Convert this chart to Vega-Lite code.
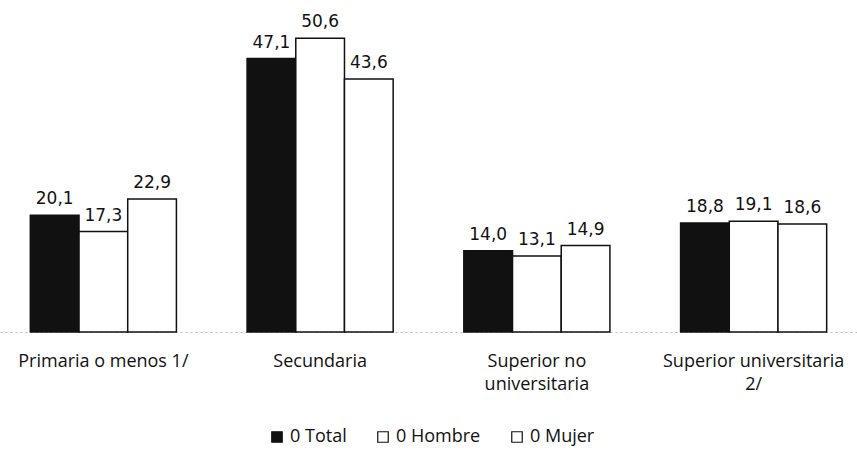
{
  "$schema": "https://vega.github.io/schema/vega-lite/v6.json",
  "autosize": "none",
  "width": 867,
  "height": 332,
  "padding": {"left": -5, "top": 0, "right": 0, "bottom": 121},
  "background": "white",
  "config": {"view": {"stroke": null}, "font": "Open Sans"},
  "data": {"values": [
    {"nivel": "Primaria o menos 1/", "serie": "Total", "valor": 20.1, "etiqueta": "20,1"},
    {"nivel": "Primaria o menos 1/", "serie": "Hombre", "valor": 17.3, "etiqueta": "17,3"},
    {"nivel": "Primaria o menos 1/", "serie": "Mujer", "valor": 22.9, "etiqueta": "22,9"},
    {"nivel": "Secundaria", "serie": "Total", "valor": 47.1, "etiqueta": "47,1"},
    {"nivel": "Secundaria", "serie": "Hombre", "valor": 50.6, "etiqueta": "50,6"},
    {"nivel": "Secundaria", "serie": "Mujer", "valor": 43.6, "etiqueta": "43,6"},
    {"nivel": "Superior no universitaria", "serie": "Total", "valor": 14.0, "etiqueta": "14,0"},
    {"nivel": "Superior no universitaria", "serie": "Hombre", "valor": 13.1, "etiqueta": "13,1"},
    {"nivel": "Superior no universitaria", "serie": "Mujer", "valor": 14.9, "etiqueta": "14,9"},
    {"nivel": "Superior universitaria 2/", "serie": "Total", "valor": 18.8, "etiqueta": "18,8"},
    {"nivel": "Superior universitaria 2/", "serie": "Hombre", "valor": 19.1, "etiqueta": "19,1"},
    {"nivel": "Superior universitaria 2/", "serie": "Mujer", "valor": 18.6, "etiqueta": "18,6"}
  ]},
  "encoding": {
    "x": {
      "field": "nivel", "type": "nominal", "sort": null,
      "scale": {"paddingInner": 0.326, "paddingOuter": 0.163},
      "axis": {
        "title": null, "labelAngle": 0, "ticks": false,
        "domainColor": "#bbbbbb", "domainDash": [2, 3], "domainWidth": 1,
        "labelFont": "Open Sans", "labelFontSize": 18, "labelColor": "#111111",
        "labelPadding": 29, "labelLineHeight": 23, "labelBaseline": "middle",
        "labelLimit": 400, "labelOverlap": false,
        "labelExpr": "datum.label == 'Superior no universitaria' ? ['Superior no', 'universitaria'] : datum.label == 'Superior universitaria 2/' ? ['Superior universitaria', '2/'] : datum.label"
      }
    },
    "xOffset": {"field": "serie", "type": "nominal", "sort": ["Total", "Hombre", "Mujer"], "scale": {"paddingInner": 0, "paddingOuter": 0}},
    "y": {"field": "valor", "type": "quantitative", "scale": {"domain": [0, 57.2], "nice": false}, "axis": null}
  },
  "layer": [
    {
      "mark": {"type": "bar", "stroke": "#111111", "strokeWidth": 1.5},
      "encoding": {
        "fill": {
          "field": "serie", "type": "nominal", "sort": ["Total", "Hombre", "Mujer"],
          "scale": {"domain": ["Total", "Hombre", "Mujer"], "range": ["#111111", "#ffffff", "#ffffff"]},
          "legend": {
            "title": null, "orient": "none", "direction": "horizontal",
            "legendX": 273, "legendY": 428,
            "symbolType": "square", "symbolSize": 110,
            "symbolStrokeColor": "#111111", "symbolStrokeWidth": 1.2,
            "labelFont": "Open Sans", "labelFontSize": 18, "labelColor": "#111111",
            "labelOffset": 4, "columnPadding": 27, "labelLimit": 300,
            "labelExpr": "'0 ' + datum.label"
          }
        }
      }
    },
    {
      "mark": {"type": "text", "baseline": "alphabetic", "dy": -11, "font": "DejaVu Sans", "fontSize": 17, "color": "#111111"},
      "encoding": {"text": {"field": "etiqueta"}}
    }
  ]
}
